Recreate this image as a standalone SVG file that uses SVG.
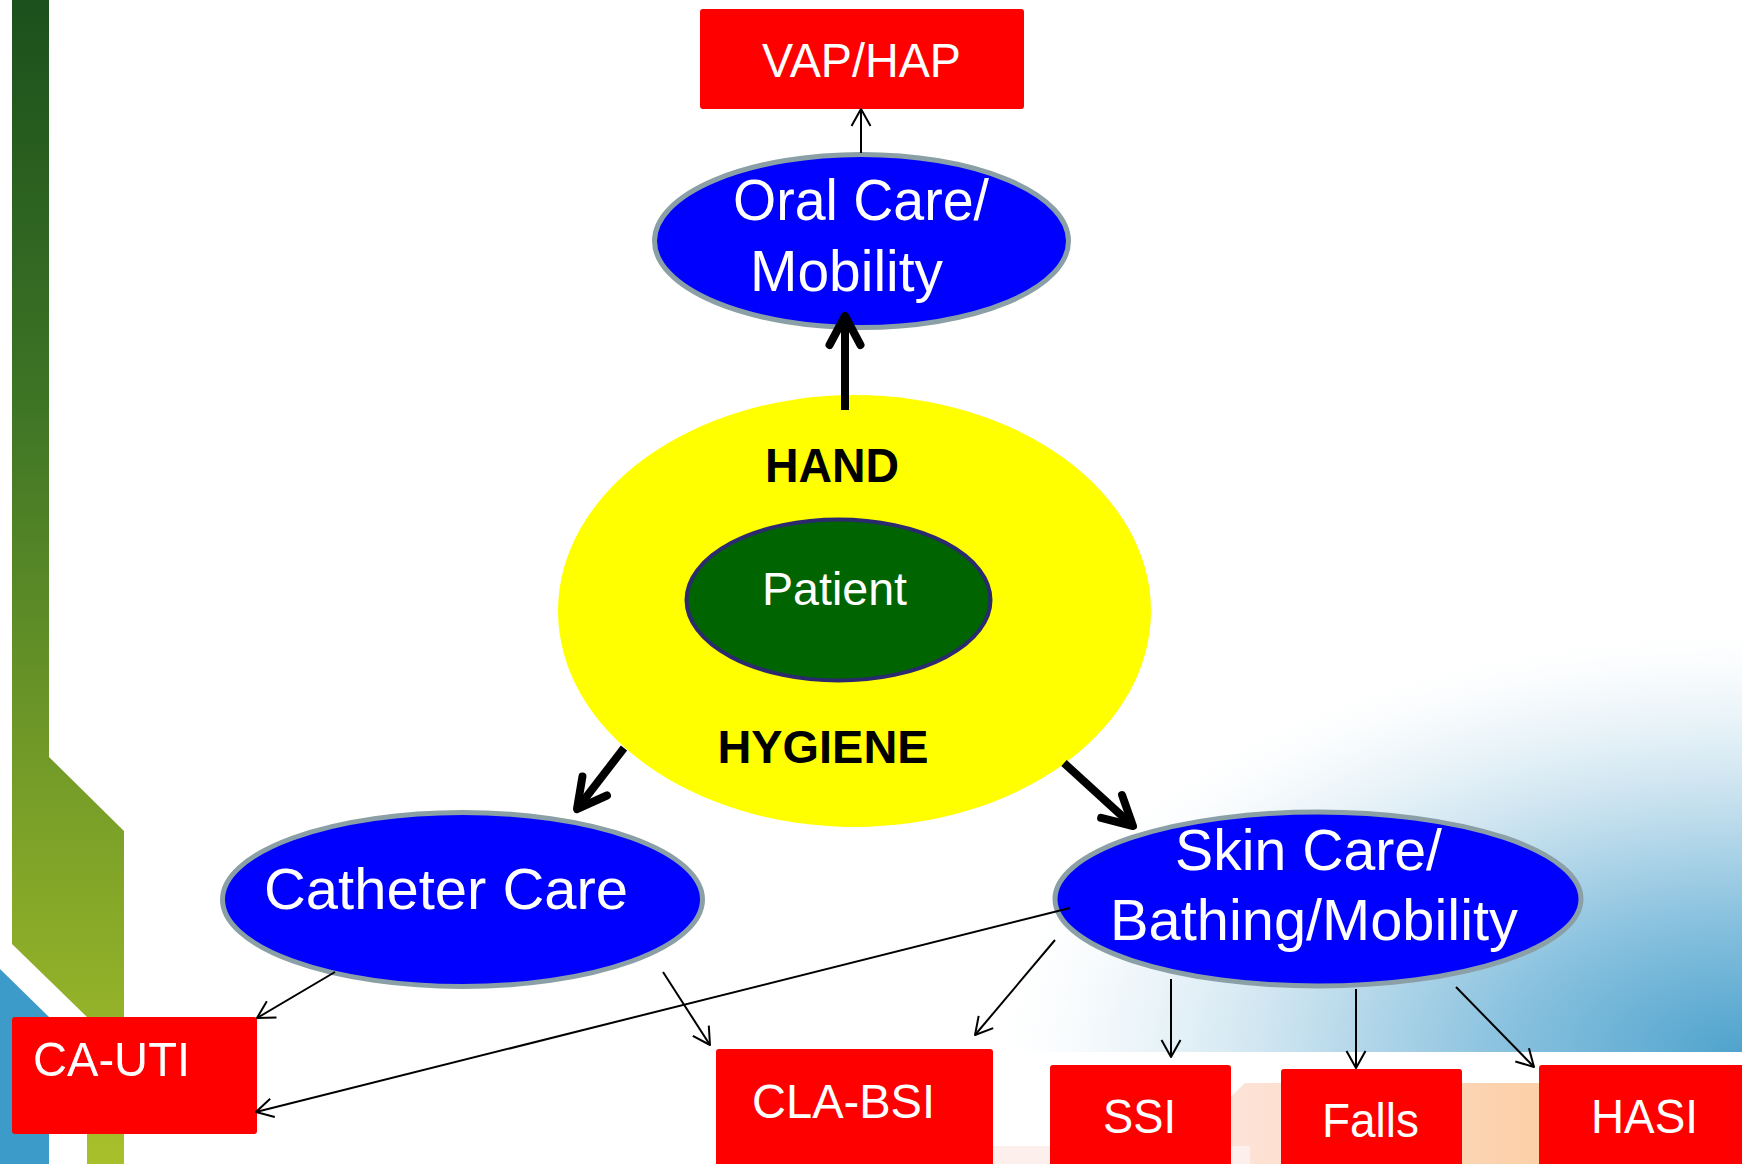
<svg xmlns="http://www.w3.org/2000/svg" width="1742" height="1164" viewBox="0 0 1742 1164">
  <defs>
    <style>
      text { font-family: "Liberation Sans", Arial, sans-serif; }
      .wt { fill: #ffffff; }
      .bt { fill: #000000; font-weight: bold; }
      .box { fill: #ff0000; }
      .blue { fill: #0000ff; stroke: #8aa0a6; stroke-width: 5; }
      .thin { fill: none; stroke: #000; stroke-width: 2; marker-end: url(#arrThin); }
      .thick { fill: none; stroke: #000; stroke-width: 8; marker-end: url(#arrThick); }
    </style>
    <linearGradient id="gBar" gradientUnits="userSpaceOnUse" x1="0" y1="0" x2="0" y2="1164">
      <stop offset="0" stop-color="#1c501c"/>
      <stop offset="0.35" stop-color="#3e7525"/>
      <stop offset="0.7" stop-color="#7aa028"/>
      <stop offset="1" stop-color="#a8c02a"/>
    </linearGradient>
    <radialGradient id="gSky" gradientUnits="userSpaceOnUse" cx="0" cy="0" r="1" gradientTransform="translate(1742 1052) scale(760 430)">
      <stop offset="0" stop-color="#4fa3cd"/>
      <stop offset="0.3" stop-color="#86c0de"/>
      <stop offset="0.6" stop-color="#c9e2ef"/>
      <stop offset="0.85" stop-color="#eef6fa" stop-opacity="0.7"/>
      <stop offset="1" stop-color="#ffffff" stop-opacity="0"/>
    </radialGradient>
    <linearGradient id="gPeach" gradientUnits="userSpaceOnUse" x1="1230" y1="0" x2="1742" y2="0">
      <stop offset="0" stop-color="#fde3d8"/>
      <stop offset="0.6" stop-color="#fcd0a8"/>
      <stop offset="1" stop-color="#fbbf80"/>
    </linearGradient>
    <marker id="arrThin" markerUnits="userSpaceOnUse" viewBox="-22 -14 26 28" markerWidth="26" markerHeight="28" refX="0" refY="0" orient="auto">
      <path d="M-17,-9.5 L0,0 L-17,9.5" fill="none" stroke="#000" stroke-width="2" stroke-linejoin="round"/>
    </marker>
    <marker id="arrThick" markerUnits="userSpaceOnUse" viewBox="-40 -24 48 48" markerWidth="48" markerHeight="48" refX="0" refY="0" orient="auto">
      <path d="M-29,-15.5 L0,0 L-29,15.5" fill="none" stroke="#000" stroke-width="8" stroke-linecap="round" stroke-linejoin="round"/>
    </marker>
  </defs>

  <!-- background -->
  <rect x="0" y="0" width="1742" height="1164" fill="#ffffff"/>
  <g id="background">
    <polygon points="12,0 49,0 49,757 124,831 124,1164 87,1164 87,1017 12,944" fill="url(#gBar)"/>
    <polygon points="0,969 49,1017 49,1164 0,1164" fill="#3d9bc9"/>
    <rect x="950" y="600" width="792" height="452" fill="url(#gSky)"/>
    <polygon points="1245,1052 1742,1052 1742,1083 1231,1083 1231,1066" fill="#ffffff"/>
    <polygon points="1245,1083 1742,1083 1742,1164 1215,1164 1215,1112" fill="url(#gPeach)"/>
    <rect x="960" y="1146" width="290" height="18" fill="#fdf0ec"/>
  </g>

  <!-- nodes -->
  <g id="hand-hygiene">
    <ellipse cx="854.5" cy="611" rx="296.5" ry="216" fill="#ffff00"/>
    <text class="bt" x="832" y="482" font-size="48" text-anchor="middle" textLength="134" lengthAdjust="spacingAndGlyphs">HAND</text>
    <text class="bt" x="823" y="763" font-size="47" text-anchor="middle" textLength="211" lengthAdjust="spacingAndGlyphs">HYGIENE</text>
  </g>
  <g id="patient">
    <ellipse cx="838.5" cy="600" rx="152" ry="80.5" fill="#006400" stroke="#2b2a6e" stroke-width="4"/>
    <text class="wt" x="834.5" y="605" font-size="47" text-anchor="middle" textLength="145" lengthAdjust="spacingAndGlyphs">Patient</text>
  </g>
  <g id="oral-care">
    <ellipse class="blue" cx="861.5" cy="241" rx="207" ry="86.5"/>
    <text class="wt" x="733" y="220" font-size="58" textLength="256" lengthAdjust="spacingAndGlyphs">Oral Care/</text>
    <text class="wt" x="750" y="291" font-size="58" textLength="193" lengthAdjust="spacingAndGlyphs">Mobility</text>
  </g>
  <g id="catheter-care">
    <ellipse class="blue" cx="462.5" cy="899.5" rx="240" ry="87"/>
    <text class="wt" x="264" y="909" font-size="58" textLength="364" lengthAdjust="spacingAndGlyphs">Catheter Care</text>
  </g>
  <g id="skin-care">
    <ellipse class="blue" cx="1318" cy="899" rx="263" ry="87"/>
    <text class="wt" x="1175" y="870" font-size="58" textLength="267" lengthAdjust="spacingAndGlyphs">Skin Care/</text>
    <text class="wt" x="1110" y="940" font-size="58" textLength="408" lengthAdjust="spacingAndGlyphs">Bathing/Mobility</text>
  </g>
  <g id="vap-hap">
    <rect class="box" x="700" y="9" width="324" height="100" rx="3"/>
    <text class="wt" x="762" y="77" font-size="49" textLength="199" lengthAdjust="spacingAndGlyphs">VAP/HAP</text>
  </g>
  <g id="ca-uti">
    <rect class="box" x="12" y="1017" width="245" height="117" rx="3"/>
    <text class="wt" x="33" y="1076" font-size="49" textLength="157" lengthAdjust="spacingAndGlyphs">CA-UTI</text>
  </g>
  <g id="cla-bsi">
    <rect class="box" x="716" y="1049" width="277" height="125" rx="3"/>
    <text class="wt" x="752" y="1118" font-size="48" textLength="183" lengthAdjust="spacingAndGlyphs">CLA-BSI</text>
  </g>
  <g id="ssi">
    <rect class="box" x="1050" y="1065" width="181" height="109" rx="3"/>
    <text class="wt" x="1103" y="1133" font-size="48" textLength="73" lengthAdjust="spacingAndGlyphs">SSI</text>
  </g>
  <g id="falls">
    <rect class="box" x="1281" y="1069" width="181" height="105" rx="3"/>
    <text class="wt" x="1322" y="1137" font-size="48" textLength="97" lengthAdjust="spacingAndGlyphs">Falls</text>
  </g>
  <g id="hasi">
    <rect class="box" x="1539" y="1065" width="213" height="109" rx="3"/>
    <text class="wt" x="1591" y="1133" font-size="48" textLength="107" lengthAdjust="spacingAndGlyphs">HASI</text>
  </g>

  <!-- connectors -->
  <g id="connectors">
    <line class="thick" x1="845" y1="410" x2="845" y2="316"/>
    <line class="thick" x1="624" y1="748" x2="577" y2="809"/>
    <line class="thick" x1="1064" y1="763" x2="1133" y2="826"/>
    <line class="thin" x1="861" y1="153" x2="861" y2="109"/>
    <line class="thin" x1="335" y1="972" x2="257" y2="1018"/>
    <line class="thin" x1="1070" y1="908" x2="256" y2="1112"/>
    <line class="thin" x1="663" y1="972" x2="710" y2="1045"/>
    <line class="thin" x1="1055" y1="940" x2="975" y2="1035"/>
    <line class="thin" x1="1171" y1="979" x2="1171" y2="1057"/>
    <line class="thin" x1="1356" y1="989" x2="1356" y2="1068"/>
    <line class="thin" x1="1456" y1="987" x2="1534" y2="1067"/>
  </g>
</svg>
